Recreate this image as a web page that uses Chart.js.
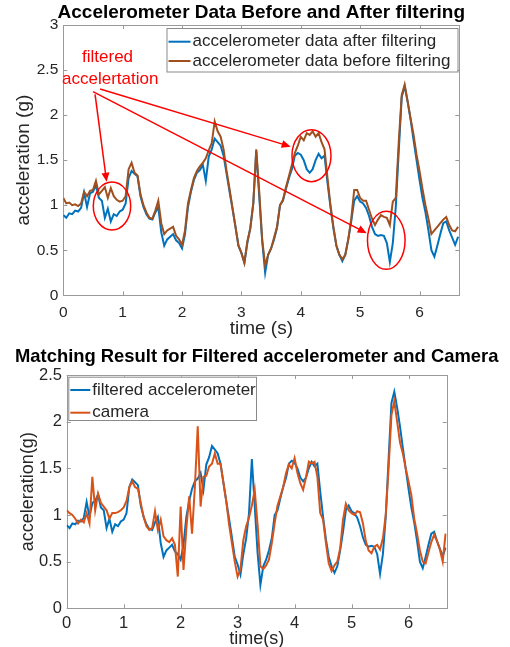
<!DOCTYPE html>
<html lang="en">
<head>
<meta charset="UTF-8">
<title>Accelerometer Data Before and After filtering</title>
<style>
  html, body { margin: 0; padding: 0; background: #fff; overflow: hidden; width: 510px; height: 647px; }
  .panel { position: absolute; left: 0; width: 510px; }
  #topPanel { top: 0; height: 340px; }
  #bottomPanel { top: 340px; height: 320px; }
</style>
<script src="https://cdn.jsdelivr.net/npm/chart.js"></script>
</head>
<body>
<div class="panel" id="topPanel"><canvas id="chartTop" width="510" height="340"></canvas></div>
<div class="panel" id="bottomPanel"><canvas id="chartBottom" width="510" height="320"></canvas></div>
<script>
// sample times (s)
const time = [
  0.00, 0.05, 0.10, 0.15, 0.20, 0.25, 0.30, 0.35, 0.40, 0.45,
  0.50, 0.55, 0.60, 0.65, 0.70, 0.75, 0.80, 0.85, 0.90, 0.95,
  1.00, 1.05, 1.10, 1.15, 1.20, 1.25, 1.30, 1.35, 1.40, 1.45,
  1.50, 1.55, 1.60, 1.65, 1.70, 1.75, 1.80, 1.85, 1.90, 1.95,
  2.00, 2.05, 2.10, 2.15, 2.20, 2.25, 2.30, 2.35, 2.40, 2.45,
  2.50, 2.55, 2.60, 2.65, 2.70, 2.75, 2.80, 2.85, 2.90, 2.95,
  3.00, 3.05, 3.10, 3.15, 3.20, 3.25, 3.30, 3.35, 3.40, 3.45,
  3.50, 3.55, 3.60, 3.65, 3.70, 3.75, 3.80, 3.85, 3.90, 3.95,
  4.00, 4.05, 4.10, 4.15, 4.20, 4.25, 4.30, 4.35, 4.40, 4.45,
  4.50, 4.55, 4.60, 4.65, 4.70, 4.75, 4.80, 4.85, 4.90, 4.95,
  5.00, 5.05, 5.10, 5.15, 5.20, 5.25, 5.30, 5.35, 5.40, 5.45,
  5.50, 5.55, 5.60, 5.65, 5.70, 5.75, 5.80, 5.85, 5.90, 5.95,
  6.00, 6.05, 6.10, 6.15, 6.20, 6.25, 6.30, 6.35, 6.40, 6.45,
  6.50, 6.55, 6.60, 6.65
];

// accelerometer after filtering (g)
const accelFiltered = [
  0.89, 0.86, 0.91, 0.90, 0.94, 0.93, 0.97, 1.14, 0.98, 1.13,
  1.15, 1.22, 1.08, 1.05, 0.86, 0.96, 0.82, 0.90, 0.88, 0.93,
  0.95, 1.02, 1.30, 1.38, 1.35, 1.32, 1.10, 0.98, 0.90, 0.85,
  0.84, 0.92, 0.98, 0.70, 0.55, 0.62, 0.65, 0.68, 0.61, 0.58,
  0.52, 0.68, 0.98, 1.15, 1.28, 1.36, 1.39, 1.45, 1.27, 1.54,
  1.62, 1.74, 1.70, 1.66, 1.55, 1.35, 1.15, 0.96, 0.76, 0.55,
  0.47, 0.36, 0.58, 0.75, 1.02, 1.60, 1.10, 0.60, 0.25, 0.45,
  0.52, 0.62, 0.75, 1.00, 1.05, 1.18, 1.30, 1.40, 1.55, 1.58,
  1.56, 1.50, 1.40, 1.36, 1.40, 1.50, 1.57, 1.52, 1.55, 1.25,
  0.98, 0.74, 0.55, 0.45, 0.38, 0.45, 0.62, 0.82, 1.05, 1.10,
  1.04, 1.02, 0.97, 0.88, 0.76, 0.68, 0.66, 0.67, 0.66, 0.58,
  0.37, 0.58, 0.98, 1.60, 2.20, 2.32, 2.15, 1.95, 1.72, 1.50,
  1.28, 1.08, 0.92, 0.72, 0.50, 0.43, 0.55, 0.68, 0.80, 0.82,
  0.72, 0.64, 0.56, 0.65
];

// accelerometer before filtering (g)
const accelRaw = [
  1.08, 1.02, 1.03, 1.00, 1.01, 0.99, 1.02, 1.15, 1.10, 1.16,
  1.17, 1.27, 1.12, 1.16, 1.20, 1.08, 1.19, 1.10, 1.06, 1.04,
  1.05, 1.10, 1.40, 1.47, 1.36, 1.33, 1.12, 1.00, 0.92, 0.86,
  0.85, 0.94, 1.05, 0.80, 0.68, 0.72, 0.74, 0.76, 0.66, 0.62,
  0.56, 0.72, 1.02, 1.17, 1.30, 1.38, 1.43, 1.47, 1.52, 1.61,
  1.69, 1.93, 1.82, 1.76, 1.62, 1.38, 1.18, 0.97, 0.76, 0.55,
  0.47, 0.36, 0.60, 0.74, 1.02, 1.62, 1.15, 0.62, 0.33, 0.45,
  0.52, 0.64, 0.76, 1.00, 1.06, 1.20, 1.32, 1.45, 1.58, 1.66,
  1.76, 1.72, 1.80, 1.78, 1.82, 1.76, 1.80, 1.70, 1.62, 1.30,
  1.00, 0.76, 0.55, 0.45, 0.40, 0.45, 0.62, 0.85, 1.17, 1.17,
  1.08, 1.05, 1.05, 0.95, 0.85, 0.78, 0.84, 0.89, 0.87, 0.86,
  0.78, 1.04, 1.08, 1.70, 2.22, 2.34, 2.15, 1.96, 1.78, 1.56,
  1.38, 1.18, 1.00, 0.85, 0.68, 0.72, 0.76, 0.80, 0.84, 0.87,
  0.78, 0.72, 0.71, 0.76
];

// camera estimate (g)
const camera = [
  1.05, 1.02, 1.00, 0.96, 0.91, 0.95, 0.92, 1.02, 0.91, 1.41,
  1.05, 1.23, 1.13, 1.09, 1.05, 0.96, 1.02, 1.02, 1.03, 1.05,
  1.08, 1.15, 1.30, 1.36, 1.30, 1.28, 1.13, 0.98, 0.88, 0.84,
  0.86, 1.04, 0.84, 0.95, 0.77, 0.73, 0.71, 0.75, 0.68, 0.34,
  1.09, 0.41, 0.85, 1.20, 0.80, 1.30, 1.95, 1.09, 1.41, 1.42,
  1.52, 1.55, 1.66, 1.55, 1.55, 1.35, 1.15, 0.90, 0.70, 0.50,
  0.34, 0.42, 0.73, 0.88, 0.97, 1.10, 1.27, 0.90, 0.45, 0.42,
  0.46, 0.52, 0.70, 0.91, 1.10, 1.20, 1.30, 1.45, 1.54, 1.50,
  1.61, 1.45, 1.34, 1.27, 1.40, 1.57, 1.55, 1.57, 1.41, 1.02,
  0.95, 0.70, 0.48, 0.40, 0.46, 0.50, 0.64, 0.95, 1.12, 1.05,
  1.02, 1.00, 1.04, 1.03, 0.91, 0.72, 0.62, 0.59, 0.66, 0.68,
  0.63, 0.75, 1.00, 1.50, 2.07, 2.22, 2.00, 1.78, 1.66, 1.50,
  1.36, 1.21, 0.96, 0.80, 0.62, 0.50, 0.48, 0.60, 0.71, 0.79,
  0.72, 0.63, 0.50, 0.80
];

const xTicks = [0, 1, 2, 3, 4, 5, 6];
const xTickLabels = ['0', '1', '2', '3', '4', '5', '6'];
const yTicksTop = [0, 0.5, 1, 1.5, 2, 2.5, 3];
const yTickLabelsTop = ['0', '0.5', '1', '1.5', '2', '2.5', '3'];
const yTicksBottom = [0, 0.5, 1, 1.5, 2, 2.5];
const yTickLabelsBottom = ['0', '0.5', '1', '1.5', '2', '2.5'];

const FONT = "'Liberation Sans', Arial, sans-serif";
const BLUE = '#0072bd';
const BROWN = '#a0501e';
const ORANGE = '#d95319';
const AXIS = '#9a9a9a';
const TEXT = '#262626';

function points(ys) {
  return time.map((t, i) => ({ x: t, y: ys[i] }));
}

// matlab-like box with inward ticks on all four sides
const boxPlugin = {
  id: 'boxPlugin',
  beforeDatasetsDraw(chart) {
    const { ctx, chartArea: a, scales } = chart;
    ctx.save();
    ctx.strokeStyle = AXIS;
    ctx.lineWidth = 1;
    ctx.strokeRect(Math.round(a.left) + 0.5, Math.round(a.top) + 0.5, Math.round(a.width), Math.round(a.height));
    ctx.beginPath();
    scales.x.ticks.forEach(t => {
      const px = Math.round(scales.x.getPixelForValue(t.value)) + 0.5;
      ctx.moveTo(px, a.bottom); ctx.lineTo(px, a.bottom - 4);
      ctx.moveTo(px, a.top); ctx.lineTo(px, a.top + 4);
    });
    scales.y.ticks.forEach(t => {
      const py = Math.round(scales.y.getPixelForValue(t.value)) + 0.5;
      ctx.moveTo(a.left, py); ctx.lineTo(a.left + 4, py);
      ctx.moveTo(a.right, py); ctx.lineTo(a.right - 4, py);
    });
    ctx.stroke();
    ctx.restore();
  }
};

// title centred over the axes, like matlab does
const axesTitlePlugin = {
  id: 'axesTitle',
  afterDraw(chart, args, opts) {
    if (!opts.text) return;
    const { ctx, chartArea: a } = chart;
    ctx.save();
    ctx.font = 'bold ' + opts.size + 'px ' + FONT;
    ctx.fillStyle = '#000';
    ctx.textAlign = 'center';
    ctx.textBaseline = 'middle';
    ctx.fillText(opts.text, (a.left + a.right) / 2, opts.y);
    ctx.restore();
  }
};

// legend box drawn inside the axes
const boxLegendPlugin = {
  id: 'boxLegend',
  afterDraw(chart, args, opts) {
    const { ctx } = chart;
    ctx.save();
    ctx.fillStyle = '#fff';
    ctx.fillRect(opts.x, opts.y, opts.w, opts.h);
    ctx.strokeStyle = '#8a8a8a';
    ctx.lineWidth = 1;
    ctx.strokeRect(opts.x + 0.5, opts.y + 0.5, opts.w, opts.h);
    ctx.font = opts.fontSize + 'px ' + FONT;
    ctx.textBaseline = 'middle';
    ctx.textAlign = 'left';
    chart.data.datasets.forEach((ds, i) => {
      const cy = opts.rowY[i];
      ctx.strokeStyle = ds.borderColor;
      ctx.lineWidth = 2;
      ctx.beginPath();
      ctx.moveTo(opts.x + 2, cy);
      ctx.lineTo(opts.x + 2 + opts.sample, cy);
      ctx.stroke();
      ctx.fillStyle = TEXT;
      ctx.fillText(ds.label, opts.x + 4 + opts.sample, cy);
    });
    ctx.restore();
  }
};

// red circles, arrows and note (positions in data units)
const notePlugin = {
  id: 'notes',
  afterDatasetsDraw(chart, args, opts) {
    if (!opts.circles) return;
    const { ctx, scales } = chart;
    const px = v => scales.x.getPixelForValue(v);
    const py = v => scales.y.getPixelForValue(v);
    ctx.save();
    ctx.strokeStyle = '#ff0000';
    ctx.fillStyle = '#ff0000';
    ctx.lineWidth = 1.5;
    opts.circles.forEach(c => {
      ctx.beginPath();
      ctx.ellipse(px(c.t), py(c.v), c.rx, c.ry, 0, 0, Math.PI * 2);
      ctx.stroke();
    });
    opts.arrows.forEach(a => {
      const x0 = px(a.from[0]), y0 = py(a.from[1]);
      const x1 = px(a.to[0]), y1 = py(a.to[1]);
      const ang = Math.atan2(y1 - y0, x1 - x0);
      ctx.beginPath();
      ctx.moveTo(x0, y0);
      ctx.lineTo(x1 - 6 * Math.cos(ang), y1 - 6 * Math.sin(ang));
      ctx.stroke();
      ctx.beginPath();
      ctx.moveTo(x1, y1);
      ctx.lineTo(x1 - 9 * Math.cos(ang) + 4 * Math.sin(ang), y1 - 9 * Math.sin(ang) - 4 * Math.cos(ang));
      ctx.lineTo(x1 - 9 * Math.cos(ang) - 4 * Math.sin(ang), y1 - 9 * Math.sin(ang) + 4 * Math.cos(ang));
      ctx.closePath();
      ctx.fill();
    });
    ctx.font = '17px ' + FONT;
    ctx.textAlign = 'center';
    ctx.textBaseline = 'middle';
    opts.text.forEach(tx => ctx.fillText(tx.s, px(tx.t), py(tx.v)));
    ctx.restore();
  }
};

Chart.register(boxPlugin, axesTitlePlugin, boxLegendPlugin, notePlugin);

function makeOptions(cfg) {
  return {
    responsive: false,
    animation: false,
    layout: { padding: { left: 0, right: cfg.padRight, top: cfg.padTop, bottom: 0 } },
    elements: { point: { radius: 0 }, line: { tension: 0 } },
    plugins: {
      legend: { display: false },
      tooltip: { enabled: false },
      title: { display: false },
      axesTitle: cfg.title,
      boxLegend: cfg.legend,
      notes: cfg.notes || {}
    },
    scales: {
      x: {
        type: 'linear',
        min: 0,
        max: 6.67,
        afterBuildTicks: s => { s.ticks = xTicks.map(v => ({ value: v })); },
        afterFit: s => { s.height = cfg.xHeight; },
        grid: { display: false, drawTicks: false },
        border: { display: false },
        ticks: {
          color: TEXT,
          font: { family: FONT, size: cfg.tickSize },
          padding: cfg.xTickPad,
          maxRotation: 0,
          callback: (v, i) => xTickLabels[i]
        },
        title: {
          display: true,
          text: cfg.xTitle,
          color: TEXT,
          font: { family: FONT, size: cfg.axisTitleSize },
          padding: { top: 0, bottom: cfg.xTitlePad }
        }
      },
      y: {
        min: 0,
        max: cfg.yMax,
        afterBuildTicks: s => { s.ticks = cfg.yTicks.map(v => ({ value: v })); },
        afterFit: s => { s.width = cfg.yWidth; },
        grid: { display: false, drawTicks: false },
        border: { display: false },
        ticks: {
          color: TEXT,
          font: { family: FONT, size: cfg.tickSize },
          padding: cfg.yTickPad,
          callback: (v, i) => cfg.yLabels[i]
        },
        title: {
          display: true,
          text: cfg.yTitle,
          color: TEXT,
          font: { family: FONT, size: cfg.axisTitleSize },
          padding: { top: cfg.yTitlePad, bottom: 0 }
        }
      }
    }
  };
}

new Chart(document.getElementById('chartTop'), {
  type: 'line',
  data: {
    datasets: [
      { label: 'accelerometer data after filtering', data: points(accelFiltered), borderColor: BLUE, borderWidth: 2, order: 1 },
      { label: 'accelerometer data before filtering', data: points(accelRaw), borderColor: BROWN, borderWidth: 2, order: 0 }
    ]
  },
  options: makeOptions({
    title: { text: 'Accelerometer Data Before and After filtering', size: 19, y: 12.5 },
    padTop: 25,
    padRight: 50.7,
    xHeight: 44.7,
    yWidth: 63.3,
    tickSize: 15.5,
    xTickPad: 8,
    yTickPad: 5,
    axisTitleSize: 19,
    xTitle: 'time (s)',
    xTitlePad: 0,
    yTitle: 'acceleration (g)',
    yTitlePad: 12.5,
    yMax: 3,
    yTicks: yTicksTop,
    yLabels: yTickLabelsTop,
    legend: { x: 166.5, y: 28, w: 291, h: 43.5, sample: 22, fontSize: 17, rowY: [41.7, 61] },
    notes: {
      circles: [
        { t: 0.82, v: 0.99, rx: 18.7, ry: 24 },
        { t: 4.18, v: 1.55, rx: 19.5, ry: 26 },
        { t: 5.44, v: 0.61, rx: 18.8, ry: 29 }
      ],
      arrows: [
        { from: [0.535, 2.23], to: [0.73, 1.26] },
        { from: [0.62, 2.29], to: [3.83, 1.65] },
        { from: [0.50, 2.26], to: [5.11, 0.69] }
      ],
      text: [
        { s: 'filtered', t: 0.745, v: 2.64 },
        { s: 'accelertation', t: 0.79, v: 2.40 }
      ]
    }
  })
});

new Chart(document.getElementById('chartBottom'), {
  type: 'line',
  data: {
    datasets: [
      { label: 'filtered accelerometer', data: points(accelFiltered), borderColor: BLUE, borderWidth: 2, order: 1 },
      { label: 'camera', data: points(camera), borderColor: ORANGE, borderWidth: 2, order: 0 }
    ]
  },
  options: makeOptions({
    title: { text: 'Matching Result for Filtered accelerometer and Camera', size: 18.4, y: 17 },
    padTop: 35,
    padRight: 63.3,
    xHeight: 51.7,
    yWidth: 66.7,
    tickSize: 16.5,
    xTickPad: 5.3,
    yTickPad: 4.7,
    axisTitleSize: 18,
    xTitle: 'time(s)',
    xTitlePad: 10.2,
    yTitle: 'acceleration(g)',
    yTitlePad: 17,
    yMax: 2.5,
    yTicks: yTicksBottom,
    yLabels: yTickLabelsBottom,
    legend: { x: 68.3, y: 36.7, w: 187.7, h: 43.3, sample: 20, fontSize: 17, rowY: [50, 72.7] }
  })
});
</script>
</body>
</html>
